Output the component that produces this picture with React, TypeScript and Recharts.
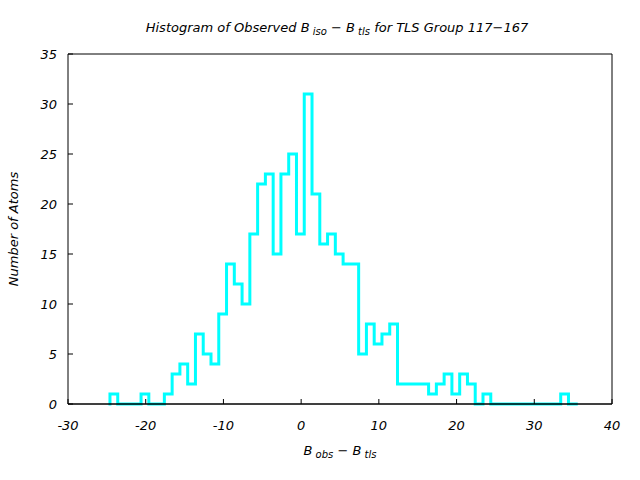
import { LineChart, Line, XAxis, YAxis, ReferenceLine } from "recharts";

// histogram of B_obs - B_tls, bins of width 1 starting at binStart
const binStart = -24.6;
const binWidth = 1;
const counts = [
  1, 0, 0, 0, 1, 0, 0, 1, 3, 4,
  2, 7, 5, 4, 9, 14, 12, 10, 17, 22,
  23, 15, 23, 25, 17, 31, 21, 16, 17, 15,
  14, 14, 5, 8, 6, 7, 8, 2, 2, 2,
  2, 1, 2, 3, 1, 3, 2, 0, 1, 0,
  0, 0, 0, 0, 0, 0, 0, 0, 1, 0,
];
const xTicks = [-30, -20, -10, 0, 10, 20, 30, 40];
const yTicks = [0, 5, 10, 15, 20, 25, 30, 35];

const steps = [
  { x: binStart, n: 0 },
  ...counts.map((n, i) => ({ x: binStart + i * binWidth, n })),
  { x: binStart + counts.length * binWidth, n: 0 },
];

const font = "'DejaVu Sans', sans-serif";
const tickStyle = { fontSize: 13, fill: "#000", fontStyle: "italic", fontFamily: font };

export default function App() {
  return (
    <div style={{ position: "absolute", left: 0, top: 0, width: 640, height: 480, background: "#fff" }}>
      <LineChart width={640} height={480} data={steps} margin={{ top: 53, right: 27, bottom: 0, left: 0 }}>
        <XAxis
          dataKey="x" type="number" domain={[-30, 40]} ticks={xTicks} allowDataOverflow
          height={76} tickSize={-5} tickMargin={22} stroke="#000" tick={tickStyle}
        />
        <XAxis
          xAxisId="top" orientation="top" dataKey="x" type="number" domain={[-30, 40]} ticks={xTicks}
          allowDataOverflow height={1} tickSize={-5} tick={false} stroke="#000"
        />
        <YAxis
          type="number" domain={[0, 35]} ticks={yTicks} width={68}
          tickSize={-5} tickMargin={16} stroke="#000" tick={tickStyle}
        />
        <YAxis
          yAxisId="right" orientation="right" type="number" domain={[0, 35]} ticks={yTicks}
          width={1} tickSize={-5} tick={false} stroke="#000"
        />
        <Line
          xAxisId="top" yAxisId="right" dataKey="n" type="stepAfter" stroke="none"
          dot={false} activeDot={false} isAnimationActive={false}
        />
        <Line
          dataKey="n" type="stepAfter" stroke="#00ffff" strokeWidth={3} strokeLinecap="square"
          strokeLinejoin="miter" dot={false} isAnimationActive={false}
        />
        <ReferenceLine y={0} stroke="#000" strokeWidth={1} />
      </LineChart>
      <svg width={640} height={480} style={{ position: "absolute", left: 0, top: 0, pointerEvents: "none" }}>
        <text x={337} y={32} textAnchor="middle" fontSize={13} fontStyle="italic" fontFamily={font}>
          Histogram of Observed B<tspan fontSize={10} dy={3}> iso</tspan>
          <tspan dy={-3}> − B</tspan><tspan fontSize={10} dy={3}> tls</tspan>
          <tspan dy={-3}> for TLS Group 117−167</tspan>
        </text>
        <text x={340} y={455} textAnchor="middle" fontSize={13} fontStyle="italic" fontFamily={font}>
          B<tspan fontSize={10} dy={3}> obs</tspan><tspan dy={-3}> − B</tspan>
          <tspan fontSize={10} dy={3}> tls</tspan>
        </text>
        <text
          x={18} y={229} textAnchor="middle" fontSize={13} fontStyle="italic" fontFamily={font}
          transform="rotate(-90 18 229)"
        >
          Number of Atoms
        </text>
      </svg>
    </div>
  );
}
